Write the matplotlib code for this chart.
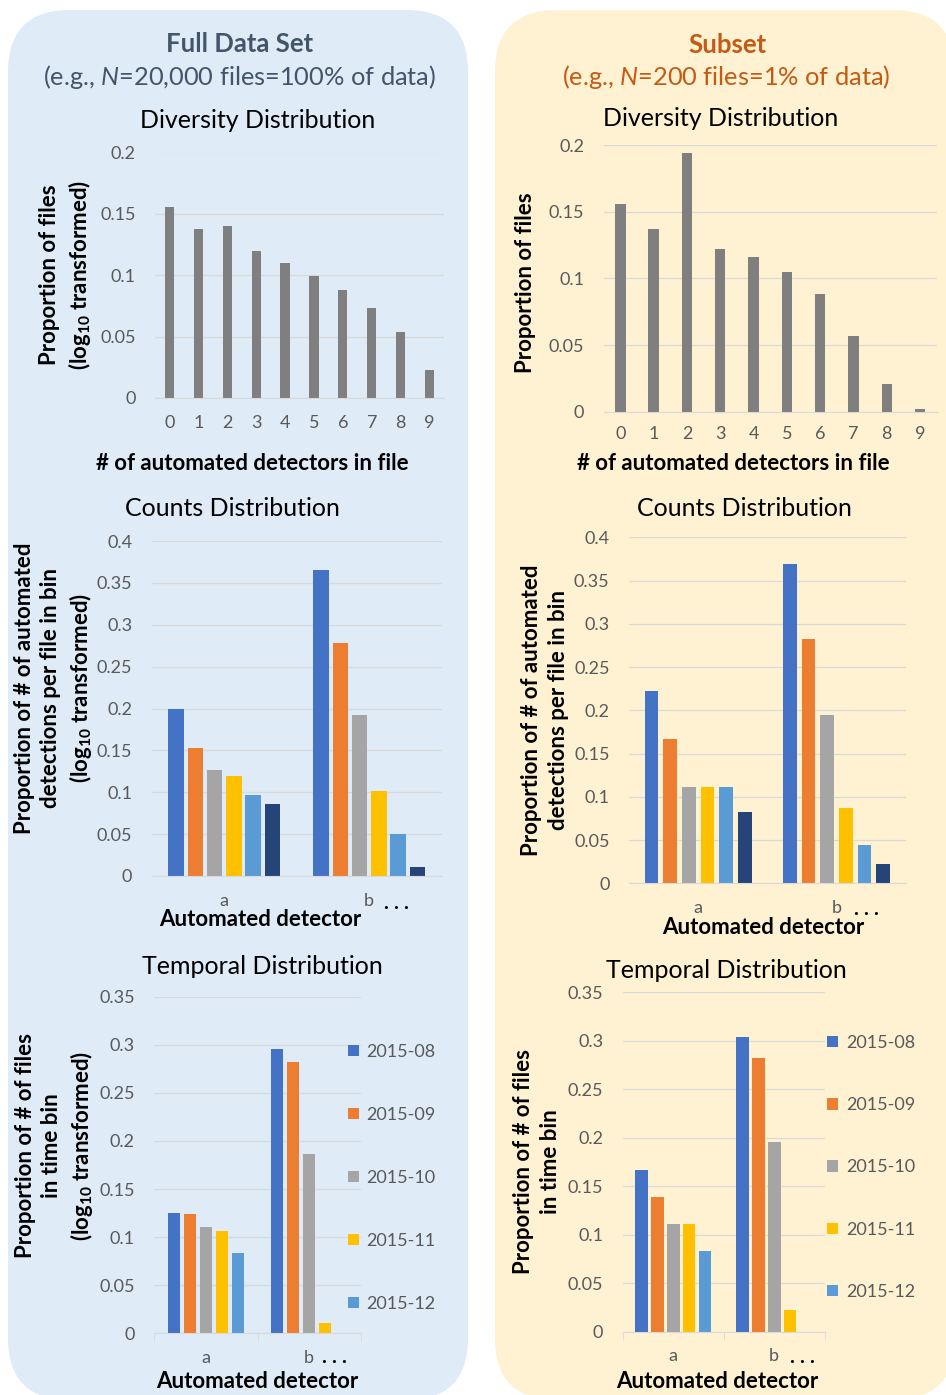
import numpy as np
import matplotlib
matplotlib.use("Agg")
from matplotlib import pyplot as plt
from matplotlib.patches import FancyBboxPatch

plt.rcParams['font.family'] = ['Lato', 'DejaVu Sans']
plt.rcParams['mathtext.fontset'] = 'custom'
plt.rcParams['mathtext.rm'] = 'Lato'
plt.rcParams['mathtext.it'] = 'Lato:italic'
plt.rcParams['mathtext.bf'] = 'Lato:bold'

W, H = 946, 1395

# ---------------- datos ----------------
detectores = [str(i) for i in range(10)]
div_full = [0.156, 0.138, 0.140, 0.120, 0.110, 0.099, 0.088, 0.073, 0.054, 0.023]
div_sub = [0.156, 0.137, 0.194, 0.122, 0.116, 0.105, 0.088, 0.057, 0.021, 0.002]

grupos = ['a', 'b']
# una lista por serie: [valor en a, valor en b]
counts_full = [[0.200, 0.365], [0.153, 0.278], [0.126, 0.192],
               [0.120, 0.101], [0.097, 0.050], [0.086, 0.011]]
counts_sub = [[0.222, 0.369], [0.167, 0.282], [0.111, 0.195],
              [0.111, 0.087], [0.111, 0.044], [0.083, 0.022]]

meses = ['2015-08', '2015-09', '2015-10', '2015-11', '2015-12']
temp_full = [[0.125, 0.296], [0.124, 0.282], [0.111, 0.186],
             [0.106, 0.011], [0.084, 0.0]]
temp_sub = [[0.167, 0.304], [0.139, 0.282], [0.111, 0.196],
            [0.111, 0.022], [0.083, 0.0]]

colores = ['#4472C4', '#ED7D31', '#A5A5A5', '#FFC000', '#5B9BD5', '#264478']
gris_barra = '#7F7F7F'
gris_texto = '#595959'
gris_grilla = '#D9D9D9'

T_TIT = 18      # titulos de cada grafico
T_LAB = 16      # etiquetas de ejes (negrita)
T_TICK = 13
INTERLIN = 1.3  # interlineado de las etiquetas verticales

fig = plt.figure(figsize=(W / 100, H / 100), dpi=100)


def px_axes(l, t, r, b):
    # ejes a partir de una caja en pixeles (izq, arriba, der, abajo)
    return fig.add_axes([l / W, 1 - b / H, (r - l) / W, (b - t) / H])


def ftext(x, y, s, **kw):
    kw.setdefault('ha', 'center')
    kw.setdefault('va', 'center')
    return fig.text(x / W, 1 - y / H, s, **kw)


def ylab(x, y, s):
    return ftext(x, y, s, fontsize=T_LAB, fontweight='bold', rotation=90,
                 linespacing=INTERLIN, multialignment='center')


def estilo(ax, ymax, ystep, n):
    ax.set_facecolor('none')
    ax.set_xlim(-0.5, n - 0.5)
    ax.set_ylim(0, ymax)
    ax.set_yticks(np.arange(0, ymax + 1e-9, ystep))
    ax.yaxis.set_major_formatter(lambda v, p: f"{v:g}")
    ax.grid(axis='y', color=gris_grilla, lw=0.9)
    ax.set_axisbelow(True)
    for s in ['top', 'right', 'left']:
        ax.spines[s].set_visible(False)
    ax.spines['bottom'].set_color(gris_grilla)
    ax.tick_params(length=0, labelsize=T_TICK, labelcolor=gris_texto, pad=14)
    ax.tick_params(axis='x', pad=12)


def barras_agrupadas(ax, series, paso, ancho):
    n = len(series)
    x = np.arange(len(grupos))
    conts = []
    for i, vals in enumerate(series):
        off = (i - (n - 1) / 2) * paso
        conts.append(ax.bar(x + off, vals, width=ancho, color=colores[i], zorder=2))
    ax.set_xticks(x)
    ax.set_xticklabels(grupos)
    return conts


def puntos(x, y):
    ftext(x, y, '. . .', fontsize=15, fontweight='bold')


# ---------------- fondos ----------------
bg = fig.add_axes([0, 0, 1, 1], zorder=-1)
bg.set_xlim(0, W)
bg.set_ylim(H, 0)
bg.axis('off')
bg.add_patch(FancyBboxPatch((8, 10), 460, 1390, boxstyle="round,pad=0,rounding_size=62",
                            fc='#DFEBF7', ec='none'))
bg.add_patch(FancyBboxPatch((495, 10), 460, 1390, boxstyle="round,pad=0,rounding_size=62",
                            fc='#FFF2D3', ec='none'))

# encabezados
ftext(240, 44, 'Full Data Set', fontsize=18.5, fontweight='bold', color='#44546A')
ftext(240, 77, '(e.g., $N$=20,000 files=100% of data)', fontsize=18.3, color='#44546A')
ftext(727, 45, 'Subset', fontsize=18.5, fontweight='bold', color='#C55A11')
ftext(726, 77, '(e.g., $N$=200 files=1% of data)', fontsize=18.3, color='#C55A11')

# ---------------- Diversity ----------------
ax = px_axes(155, 152.5, 444, 398)
estilo(ax, 0.2, 0.05, 10)
ax.bar(range(10), div_full, width=0.32, color=gris_barra, zorder=2)
ax.set_xticks(range(10))
ax.set_xticklabels(detectores)
ftext(258, 120, 'Diversity Distribution', fontsize=T_TIT)
ftext(252, 463, '# of automated detectors in file', fontsize=T_LAB, fontweight='bold')
ylab(66, 275, 'Proportion of files\n(log$_{\\mathbf{10}}$ transformed)')

ax = px_axes(603.7, 145.3, 936.7, 411.7)
estilo(ax, 0.2, 0.05, 10)
ax.bar(range(10), div_sub, width=0.31, color=gris_barra, zorder=2)
ax.set_xticks(range(10))
ax.set_xticklabels(detectores)
ax.tick_params(axis='x', pad=10)
ftext(721, 119, 'Diversity Distribution', fontsize=T_TIT)
ftext(733, 463, '# of automated detectors in file', fontsize=T_LAB, fontweight='bold')
ylab(526, 283, 'Proportion of files')

# ---------------- Counts ----------------
ax = px_axes(151.7, 541, 441.7, 876)
estilo(ax, 0.4, 0.05, 2)
barras_agrupadas(ax, counts_full, 0.133, 0.106)
ftext(232, 509, 'Counts Distribution', fontsize=T_TIT)
ftext(260, 920, 'Automated detector', fontsize=T_LAB, fontweight='bold')
puntos(396, 903)
ylab(54, 688, 'Proportion of # of automated\ndetections per file in bin\n(log$_{\\mathbf{10}}$ transformed)')

ax = px_axes(629, 537.3, 905.7, 883.3)
estilo(ax, 0.4, 0.05, 2)
barras_agrupadas(ax, counts_sub, 0.135, 0.1)
ftext(744, 508, 'Counts Distribution', fontsize=T_TIT)
ftext(763, 928, 'Automated detector', fontsize=T_LAB, fontweight='bold')
puntos(866, 909)
ylab(545, 710, 'Proportion of # of automated\ndetections per file in bin')


# ---------------- Temporal ----------------
def temporal(ax, series, paso, ancho, leg_x, leg_y, esp):
    estilo(ax, 0.35, 0.05, 2)
    conts = barras_agrupadas(ax, series, paso, ancho)
    ax.set_xticks([-0.5, 0.5, 1.5], minor=True)
    ax.tick_params(axis='x', which='minor', length=6, color=gris_grilla)
    ax.legend(conts, meses, loc='upper left', bbox_to_anchor=(leg_x / W, 1 - leg_y / H),
              bbox_transform=fig.transFigure, frameon=False, fontsize=T_TICK,
              labelcolor=gris_texto, handlelength=0.6, handleheight=0.6,
              handletextpad=0.45, labelspacing=esp, borderpad=0, borderaxespad=0)


ax = px_axes(154.3, 996.7, 360.7, 1333.3)
temporal(ax, temp_full, 0.155, 0.122, 347.7, 1044, 2.6)
ftext(262, 966, 'Temporal Distribution', fontsize=T_TIT)
ftext(257, 1381, 'Automated detector', fontsize=T_LAB, fontweight='bold')
puntos(334, 1357)
ylab(55, 1146, 'Proportion of # of files\nin time bin\n(log$_{\\mathbf{10}}$ transformed)')

ax = px_axes(622.7, 992.3, 824.7, 1331.7)
temporal(ax, temp_sub, 0.158, 0.125, 827, 1035, 2.56)
ftext(726, 970, 'Temporal Distribution', fontsize=T_TIT)
ftext(717, 1381, 'Automated detector', fontsize=T_LAB, fontweight='bold')
puntos(802, 1357)
ylab(537, 1162, 'Proportion of # of files\nin time bin')

fig.savefig('out.png', dpi=100)
